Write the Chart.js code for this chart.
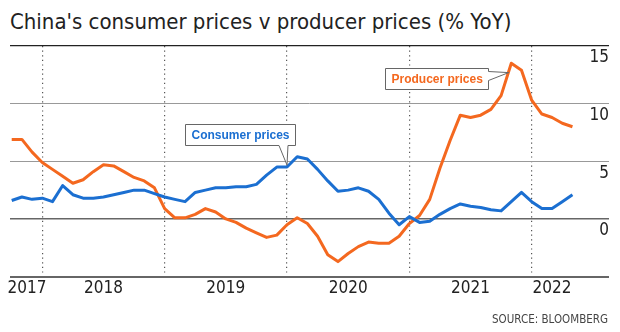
<!DOCTYPE html>
<html lang="en">
<head>
<meta charset="UTF-8">
<title>China's consumer prices v producer prices</title>
<style>
  body { margin: 0; background: #fff; }
  .wrap { position: relative; width: 620px; height: 332px; overflow: hidden; }
  h1 {
    position: absolute; left: 10px; top: 11px; margin: 0;
    font: 400 22px/22px "Liberation Sans Narrow", "DejaVu Sans Condensed", sans-serif;
    color: #222; white-space: nowrap;
  }
  .source {
    position: absolute; right: 12px; top: 313px; margin: 0;
    font: 400 11.5px/12px "Liberation Sans Narrow", "DejaVu Sans Condensed", sans-serif;
    color: #444;
  }
  canvas { position: absolute; left: 0; top: 0; }
</style>
</head>
<body>
<div class="wrap">
  <h1>China's consumer prices v producer prices (% YoY)</h1>
  <canvas id="pricesChart" width="620" height="332"></canvas>
  <p class="source">SOURCE: BLOOMBERG</p>
</div>

<script src="https://cdn.jsdelivr.net/npm/chart.js"></script>
<script>
// Monthly readings, Sep 2017 - Apr 2022
const months = [
  '2017-09', '2017-10', '2017-11', '2017-12',
  '2018-01', '2018-02', '2018-03', '2018-04', '2018-05', '2018-06', '2018-07', '2018-08', '2018-09', '2018-10', '2018-11', '2018-12',
  '2019-01', '2019-02', '2019-03', '2019-04', '2019-05', '2019-06', '2019-07', '2019-08', '2019-09', '2019-10', '2019-11', '2019-12',
  '2020-01', '2020-02', '2020-03', '2020-04', '2020-05', '2020-06', '2020-07', '2020-08', '2020-09', '2020-10', '2020-11', '2020-12',
  '2021-01', '2021-02', '2021-03', '2021-04', '2021-05', '2021-06', '2021-07', '2021-08', '2021-09', '2021-10', '2021-11', '2021-12',
  '2022-01', '2022-02', '2022-03', '2022-04'
];

const consumerPrices = [
  1.6, 1.9, 1.7, 1.8,
  1.5, 2.9, 2.1, 1.8, 1.8, 1.9, 2.1, 2.3, 2.5, 2.5, 2.2, 1.9,
  1.7, 1.5, 2.3, 2.5, 2.7, 2.7, 2.8, 2.8, 3.0, 3.8, 4.5, 4.5,
  5.4, 5.2, 4.3, 3.3, 2.4, 2.5, 2.7, 2.4, 1.7, 0.5, -0.5, 0.2,
  -0.3, -0.2, 0.4, 0.9, 1.3, 1.1, 1.0, 0.8, 0.7, 1.5, 2.3, 1.5,
  0.9, 0.9, 1.5, 2.1
];

const producerPrices = [
  6.9, 6.9, 5.8, 4.9,
  4.3, 3.7, 3.1, 3.4, 4.1, 4.7, 4.6, 4.1, 3.6, 3.3, 2.7, 0.9,
  0.1, 0.1, 0.4, 0.9, 0.6, 0.0, -0.3, -0.8, -1.2, -1.6, -1.4, -0.5,
  0.1, -0.4, -1.5, -3.1, -3.7, -3.0, -2.4, -2.0, -2.1, -2.1, -1.5, -0.4,
  0.3, 1.7, 4.4, 6.8, 9.0, 8.8, 9.0, 9.5, 10.7, 13.5, 12.9, 10.3,
  9.1, 8.8, 8.3, 8.0
];

const yearLabels = ['2017', '2018', '2019', '2020', '2021', '2022'];
const valueTicks = [-5, 0, 5, 10, 15];

const BLUE = '#1b6fd1';
const ORANGE = '#f4681f';
const FONT = '"Liberation Sans Narrow", "DejaVu Sans Condensed", sans-serif';

// each reading sits at the end of its month on a fractional-year axis
const monthEnd = (m) => {
  const [y, mo] = m.split('-').map(Number);
  return y + mo / 12;
};
const xs = months.map(monthEnd);
const firstX = xs[0];
const lastX = xs[xs.length - 1];

// year labels centred on the part of each year that has data
const yearCentres = yearLabels.map(y => {
  const a = Math.max(+y, firstX);
  const b = Math.min(+y + 1, lastX);
  return (a + b) / 2;
});
const yearLines = yearLabels.slice(1).map(Number);

const toPoints = (vals) => vals.map((v, i) => ({ x: xs[i], y: v }));

// boxed labels with a pointer to the line
const callouts = {
  id: 'callouts',
  afterDatasetsDraw(chart, args, opts) {
    const ctx = chart.ctx;
    ctx.save();
    ctx.font = 'bold 12px "Liberation Sans", Arial, sans-serif';
    opts.items.forEach(c => {
      const pt = chart.getDatasetMeta(c.dataset).data[c.index];
      const tx = pt.x + c.tip[0];
      const ty = pt.y + c.tip[1];
      const w = Math.round(ctx.measureText(c.text).width + 12);
      const h = 21;
      let L, T;
      ctx.beginPath();
      if (c.side === 'bottom') {
        L = Math.round(tx + c.box[0]) + 0.5;
        T = Math.round(ty + c.box[1]) + 0.5;
        const R = L + w, B = T + h;
        ctx.moveTo(L, T);
        ctx.lineTo(R, T);
        ctx.lineTo(R, B);
        ctx.lineTo(tx + c.wedge[1], B);
        ctx.lineTo(tx, ty);
        ctx.lineTo(tx + c.wedge[0], B);
        ctx.lineTo(L, B);
      } else {
        const R = Math.round(tx + c.box[0]) + 0.5;
        T = Math.round(ty + c.box[1]) + 0.5;
        L = R - w;
        const B = T + h;
        ctx.moveTo(L, T);
        ctx.lineTo(R, T);
        ctx.lineTo(R, T + c.wedge[0]);
        ctx.lineTo(tx, ty);
        ctx.lineTo(R, T + c.wedge[1]);
        ctx.lineTo(R, B);
        ctx.lineTo(L, B);
      }
      ctx.closePath();
      ctx.fillStyle = '#fff';
      ctx.fill();
      ctx.lineWidth = 1;
      ctx.strokeStyle = '#666';
      ctx.stroke();
      ctx.fillStyle = c.color;
      ctx.textBaseline = 'alphabetic';
      ctx.textAlign = 'left';
      ctx.fillText(c.text, L + 6, T + 14.5);
    });
    ctx.restore();
  }
};

const gridColour = (v) => v === 15 ? '#222' : (v === 0 || v === -5) ? '#666' : '#999';
const gridWidth = (v) => v === 15 ? 1.3 : v === -5 ? 2 : v === 0 ? 1.6 : 1;

new Chart(document.getElementById('pricesChart'), {
  type: 'line',
  data: {
    datasets: [
      {
        label: 'Consumer prices',
        data: toPoints(consumerPrices),
        borderColor: BLUE,
        borderWidth: 3,
        pointRadius: 0,
        tension: 0,
        borderJoinStyle: 'round'
      },
      {
        label: 'Producer prices',
        data: toPoints(producerPrices),
        borderColor: ORANGE,
        borderWidth: 3,
        pointRadius: 0,
        tension: 0,
        borderJoinStyle: 'round'
      }
    ]
  },
  options: {
    responsive: false,
    animation: false,
    devicePixelRatio: 1,
    layout: { padding: { left: 10, right: 11, top: 46, bottom: 31 } },
    plugins: {
      legend: { display: false },
      tooltip: { enabled: false },
      callouts: {
        items: [
          { text: 'Consumer prices', dataset: 0, index: 27, color: BLUE,
            side: 'bottom', tip: [0, -2], box: [-101.5, -41], wedge: [-8, 1] },
          { text: 'Producer prices', dataset: 1, index: 49, color: ORANGE,
            side: 'right', tip: [-2.6, 9.3], box: [-20.2, -4.8], wedge: [3, 12] }
        ]
      }
    },
    scales: {
      x: {
        type: 'linear',
        position: 'bottom',
        min: 2017.736,
        max: 2022.632,
        afterBuildTicks: (scale) => { scale.ticks = yearCentres.map(v => ({ value: v })); },
        grid: { display: false, drawTicks: false },
        border: { display: false },
        ticks: {
          autoSkip: false,
          maxRotation: 0,
          padding: 2,
          color: '#222',
          font: { family: FONT, size: 17 },
          callback: (v, i) => yearLabels[i]
        }
      },
      xYears: {
        type: 'linear',
        position: 'top',
        min: 2017.736,
        max: 2022.632,
        afterBuildTicks: (scale) => { scale.ticks = yearLines.map(v => ({ value: v })); },
        grid: { color: '#555', lineWidth: 1.2, drawTicks: false },
        border: { display: false, dash: [1.2, 3.4] },
        ticks: { display: false }
      },
      y: {
        type: 'linear',
        position: 'right',
        min: -5,
        max: 15,
        afterBuildTicks: (scale) => { scale.ticks = valueTicks.map(v => ({ value: v })); },
        grid: {
          drawTicks: false,
          color: (c) => gridColour(c.tick.value),
          lineWidth: (c) => gridWidth(c.tick.value)
        },
        border: { display: false },
        ticks: {
          mirror: true,
          padding: 0,
          labelOffset: 12,
          color: '#222',
          font: { family: FONT, size: 17 },
          callback: (v) => v === -5 ? '' : v
        }
      }
    }
  },
  plugins: [callouts]
});
</script>
</body>
</html>
